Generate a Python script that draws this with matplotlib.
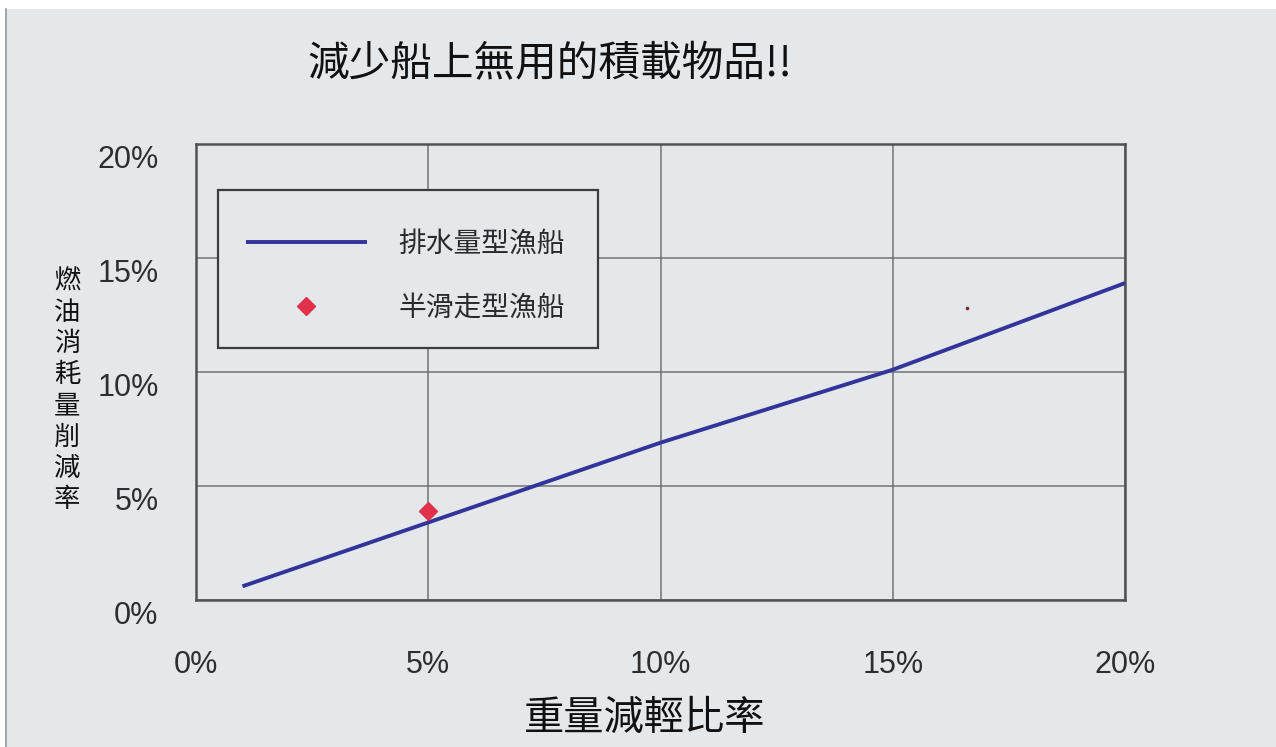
import matplotlib
matplotlib.use("Agg")
import matplotlib.pyplot as plt
from matplotlib.transforms import ScaledTranslation
from matplotlib.patches import Rectangle

plt.rcParams['font.family'] = ['Noto Sans CJK TC', 'DejaVu Sans']

# Data (percent)
weight_reduction = [1, 5, 10, 15, 20]
fuel_saving_displacement = [0.6, 3.4, 6.9, 10.1, 13.9]
planing_x = [5]
planing_y = [3.9]
speck_x = [16.6]
speck_y = [12.8]

x_ticks = [0, 5, 10, 15, 20]
y_ticks = [0, 5, 10, 15, 20]
tick_labels = ["0%", "5%", "10%", "15%", "20%"]

title = "減少船上無用的積載物品!!"
x_label = "重量減輕比率"
y_label = "燃油消耗量削減率"
series_names = ["排水量型漁船", "半滑走型漁船"]

BG = "#e5e8eb"
W, H = 1276, 747
fig = plt.figure(figsize=(W / 100, H / 100), dpi=100, facecolor=BG)

# scan border: white strips at top and left edge with a faint rule
fig.patches.append(Rectangle((0, 1 - 9 / H), 1, 9 / H, transform=fig.transFigure,
                             facecolor="white", edgecolor="none", zorder=-1))
fig.patches.append(Rectangle((0, 0), 5 / W, 1, transform=fig.transFigure,
                             facecolor="white", edgecolor="none", zorder=-1))
fig.add_artist(plt.Line2D([6 / W, 6 / W], [0, 1 - 9 / H], transform=fig.transFigure,
                          color="#9a9da0", lw=1.2))

left, right, top, bottom = 196, 1125, 144, 600
ax = fig.add_axes([left / W, 1 - bottom / H, (right - left) / W, (bottom - top) / H])
ax.set_facecolor(BG)
ax.set_xlim(0, 20)
ax.set_ylim(0, 20)
ax.set_xticks(x_ticks)
ax.set_yticks(y_ticks)
ax.set_xticklabels(tick_labels)
ax.set_yticklabels(tick_labels)
ax.grid(True, color="#707274", lw=1.1)
ax.set_axisbelow(True)
for s in ax.spines.values():
    s.set_color("#505254")
    s.set_linewidth(1.8)
ax.tick_params(axis="both", length=0, colors="#2e2e2e", labelsize=22)
ax.tick_params(axis="x", pad=36)
ax.tick_params(axis="y", pad=27)
for lab in ax.get_yticklabels():
    lab.set_fontfamily(["Liberation Sans", "DejaVu Sans"])
    lab.set_transform(lab.get_transform() + ScaledTranslation(0, -9 / 72, fig.dpi_scale_trans))
for lab in ax.get_xticklabels():
    lab.set_fontfamily(["Liberation Sans", "DejaVu Sans"])

ax.plot(weight_reduction, fuel_saving_displacement, color="#32349a", lw=2.8,
        solid_capstyle="butt", label=series_names[0], zorder=3)
ax.plot(planing_x, planing_y, linestyle="none", marker="D", markersize=9,
        color="#e0304a", markeredgecolor="#e0304a", label=series_names[1], zorder=4)
ax.plot(speck_x, speck_y, linestyle="none", marker="o", markersize=1.6,
        color="#7a2a3a", zorder=4)

# legend box drawn separately so its padding can differ per side
lx0, ly0, lx1, ly1 = 218, 190, 598, 348
ax.add_patch(Rectangle((lx0 / W, 1 - ly1 / H), (lx1 - lx0) / W, (ly1 - ly0) / H,
                       transform=fig.transFigure, facecolor=BG, edgecolor="#3c3c3c",
                       linewidth=1.6, zorder=5, clip_on=False))
leg = ax.legend(loc="upper left", bbox_to_anchor=(218 / W, 1 - 201 / H),
                bbox_transform=fig.transFigure, fontsize=20, frameon=False,
                handlelength=4.35, handletextpad=1.15,
                labelspacing=1.22, borderpad=1.0, borderaxespad=0)
leg.set_zorder(6)
for t in leg.get_texts():
    t.set_color("#2a2a2a")

fig.text(550 / W, 1 - 65 / H, title, ha="center", va="center", fontsize=30, color="#111111")
fig.text(645 / W, 1 - 718 / H, x_label, ha="center", va="center", fontsize=29, color="#111111")
fig.text(67 / W, 1 - 390 / H, "\n".join(y_label), ha="center", va="center",
         fontsize=19, linespacing=1.2, color="#111111")

fig.savefig("out.png", dpi=100, facecolor=BG)
